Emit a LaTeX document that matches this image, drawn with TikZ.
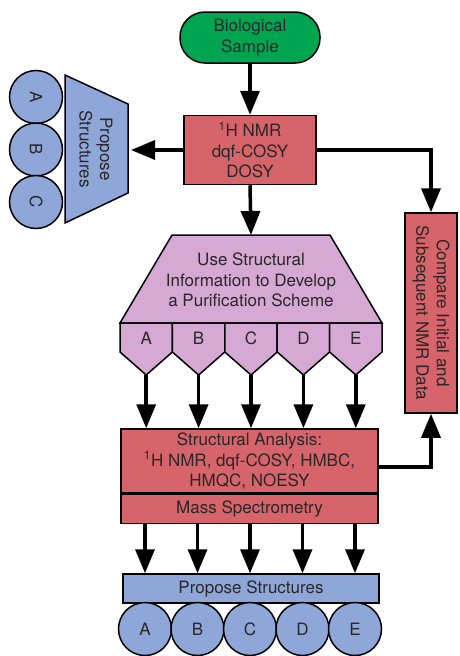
\documentclass[tikz,border=0pt]{standalone}
\usepackage{fontspec}
\setmainfont{TeX Gyre Heros}
\usetikzlibrary{arrows.meta,positioning}
\definecolor{samplegreen}{RGB}{0,165,82}
\definecolor{nmrred}{RGB}{214,100,106}
\definecolor{schemepink}{RGB}{214,168,212}
\definecolor{propblue}{RGB}{143,166,216}
\definecolor{textgray}{RGB}{40,40,40}
\begin{document}
\begin{tikzpicture}[x=1pt,y=-1pt,
  font=\fontsize{17}{20.5}\selectfont,text=textgray,
  box/.style={draw,line width=1.5pt,align=center,inner sep=0pt},
  outline/.style={draw,line width=1.5pt},
  arr/.style={line width=3.5pt,-{Triangle[length=24pt,width=19pt]}},
  structure/.style={draw,circle,line width=1.5pt,fill=propblue,minimum size=53pt,inner sep=0pt}]
\useasboundingbox (0,0) rectangle (460,656);

% sample and first NMR
\node[box,fill=samplegreen,rounded corners=25pt,minimum width=140pt,minimum height=51pt] (sample) at (250,37.5) {Biological\\Sample};
\node[box,fill=nmrred,minimum width=132pt,minimum height=69pt] (nmr) at (250,150) {\textsuperscript{1}H NMR\\dqf-COSY\\DOSY};
\draw[arr] (sample) -- (nmr);

% propose structures, left
\filldraw[outline,fill=propblue] (65,75) -- (128,104) -- (128,193) -- (65,223) -- cycle;
\node[rotate=-90,align=center] (lprop) at (96,149) {Propose\\Structures};
\coordinate (lpropE) at (131,150);
\draw[arr] (nmr.west) -- (lpropE);
\foreach \l [count=\i from 0] in {A,B,C}
  \node[structure,rotate=-90] (l\l) at (36,97+52.5*\i) {\l};

% compare box (rotated: west is the top)
\node[box,fill=nmrred,rotate=-90,minimum width=200pt,minimum height=52pt] (compare) at (431,313) {Compare Initial and\\Subsequent NMR Data};
\draw[arr] (nmr.east) -| (compare.west);

% purification scheme
\filldraw[outline,fill=schemepink] (172,235) -- (330,235) -- (382,323) -- (120,323) -- cycle;
\node[align=center] (scheme) at (251,280) {Use Structural\\Information to Develop\\a Purification Scheme};
\coordinate (schemetop) at (251,235);
\draw[arr] (nmr.south) -- (schemetop);
\foreach \l [count=\i from 0] in {A,B,C,D,E}{
  \filldraw[outline,fill=schemepink] (120+52.4*\i,323) -- ++(52.4,0) -- ++(0,29) -- ++(-26.2,23) -- ++(-26.2,-23) -- cycle;
  \node (tab\l) at (146.2+52.4*\i,338) {\l};
  \coordinate (tip\l) at (146.2+52.4*\i,375);
}

% structural analysis
\node[box,fill=nmrred,minimum width=257pt,minimum height=64pt] (anal) at (249.5,461) {Structural Analysis:\\\textsuperscript{1}H NMR, dqf-COSY, HMBC,\\HMQC, NOESY};
\node[box,fill=nmrred,minimum width=257pt,minimum height=29pt,below=0pt of anal] (mass) {Mass Spectrometry};
\foreach \l in {A,B,C,D,E}
  \draw[arr] (tip\l) -- (tip\l |- anal.north);
\draw[arr] ([yshift=-6pt]anal.east) -| (compare.east);

% propose structures, bottom
\node[box,fill=propblue,minimum width=256pt,minimum height=29pt] (prop) at (251,588.5) {Propose Structures};
\foreach \l [count=\i from 0] in {A,B,C,D,E}{
  \node[structure] (s\l) at (145+52.5*\i,629) {\l};
  \draw[arr] (s\l |- mass.south) -- (s\l |- prop.north);
}
\end{tikzpicture}
\end{document}
